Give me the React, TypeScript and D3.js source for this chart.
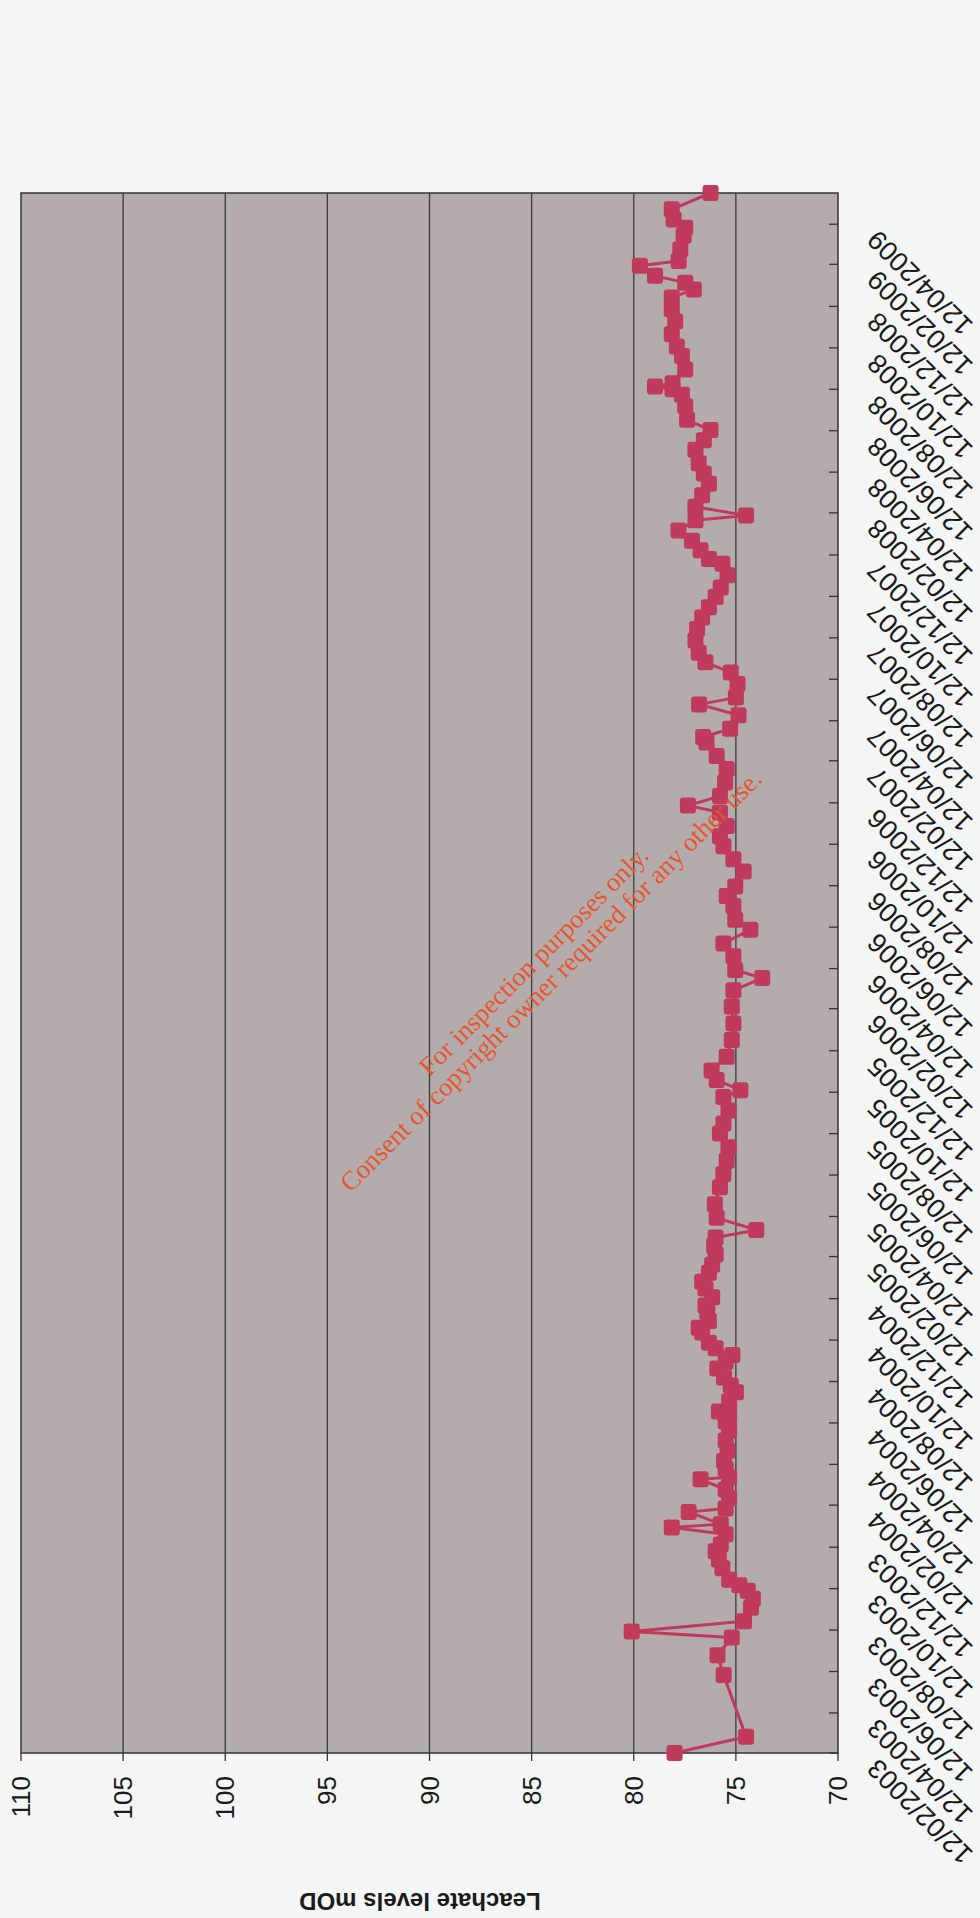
import React from 'react';
import * as d3 from 'd3';

const seriesName = 'L03/1';
const axisTitle = 'Leachate levels mOD';
const watermark1 = 'For inspection purposes only.';
const watermark2 = 'Consent of copyright owner required for any other use.';

const dates = [
'2003-02-12','2003-03-08','2003-06-07','2003-07-06','2003-08-01','2003-08-10','2003-08-25','2003-09-14','2003-09-27','2003-10-09',
'2003-10-17','2003-10-25','2003-11-11','2003-11-24','2003-12-06','2003-12-16','2003-12-31','2004-01-10','2004-01-15','2004-02-02',
'2004-02-07','2004-02-22','2004-03-06','2004-03-21','2004-03-24','2004-04-05','2004-04-17','2004-05-02','2004-05-17','2004-06-01',
'2004-06-14','2004-06-24','2004-06-29','2004-07-14','2004-07-27','2004-08-06','2004-08-18','2004-08-31','2004-09-10','2004-09-20',
'2004-09-30','2004-10-08','2004-10-23','2004-10-30','2004-11-09','2004-11-22','2004-12-02','2004-12-14','2004-12-27','2005-01-06',
'2005-01-19','2005-01-31','2005-02-15','2005-02-28','2005-03-12','2005-03-23','2005-04-10','2005-04-30','2005-05-25','2005-06-13',
'2005-07-03','2005-07-23','2005-08-12','2005-08-27','2005-09-15','2005-10-05','2005-10-15','2005-10-30','2005-11-13','2005-12-03',
'2005-12-28','2006-01-21','2006-02-15','2006-03-11','2006-03-29','2006-04-10','2006-04-30','2006-05-19','2006-06-08','2006-06-23',
'2006-07-13','2006-07-28','2006-08-11','2006-09-02','2006-09-20','2006-10-09','2006-10-24','2006-11-08','2006-11-28','2006-12-08',
'2006-12-22','2007-01-11','2007-01-31','2007-02-19','2007-03-11','2007-03-19','2007-03-31','2007-04-20','2007-05-06','2007-05-16',
'2007-06-05','2007-06-22','2007-07-07','2007-07-21','2007-08-08','2007-08-25','2007-09-11','2007-09-26','2007-10-11','2007-10-25',
'2007-11-12','2007-11-29','2007-12-06','2007-12-19','2008-01-02','2008-01-17','2008-02-01','2008-02-08','2008-02-21','2008-03-09',
'2008-03-26','2008-04-10','2008-04-25','2008-05-15','2008-05-29','2008-06-13','2008-06-28','2008-07-18','2008-08-04','2008-08-12',
'2008-08-16','2008-08-21','2008-09-10','2008-09-30','2008-10-14','2008-11-01','2008-11-20','2008-12-08','2008-12-25','2009-01-06',
'2009-01-16','2009-01-26','2009-02-10','2009-02-17','2009-03-06','2009-03-26','2009-04-07','2009-04-19','2009-05-04','2009-05-28'
];

const levels = [
78.0,74.5,75.6,75.9,75.2,80.1,74.6,74.26,74.17,74.42,
74.83,75.33,75.66,75.83,75.99,75.74,75.5,78.14,75.74,77.31,
75.5,75.33,75.5,76.73,75.33,75.5,75.58,75.41,75.5,75.33,
75.5,75.33,75.83,75.33,75.0,75.25,75.58,75.91,75.5,75.17,
75.99,76.32,76.65,76.82,76.32,76.4,76.49,76.16,76.49,76.65,
76.32,76.16,75.99,76.07,75.99,74.0,75.94,76.03,75.78,75.61,
75.45,75.36,75.78,75.61,75.36,75.61,74.78,75.94,76.19,75.45,
75.2,75.12,75.2,75.12,73.71,75.03,75.12,75.61,74.29,75.03,
75.12,75.45,75.03,74.62,75.12,75.61,75.78,75.45,75.78,77.35,
75.78,75.53,75.45,75.94,76.44,76.6,75.28,74.87,76.8,75.0,
74.92,75.25,76.49,76.82,76.98,76.9,76.65,76.32,75.99,75.74,
75.41,75.66,76.32,76.73,77.15,77.81,76.98,74.5,76.98,76.65,
76.32,76.57,76.82,76.98,76.57,76.24,77.39,77.48,77.64,78.1,
78.96,78.1,77.48,77.64,77.89,78.14,77.97,78.14,78.14,77.06,
77.48,78.96,79.7,77.8,77.72,77.56,77.48,78.05,78.14,76.24
];

const valueTicks = [110, 105, 100, 95, 90, 85, 80, 75, 70];

const dateTickLabels = [
'12/02/2003','12/04/2003','12/06/2003','12/08/2003','12/10/2003','12/12/2003',
'12/02/2004','12/04/2004','12/06/2004','12/08/2004','12/10/2004','12/12/2004',
'12/02/2005','12/04/2005','12/06/2005','12/08/2005','12/10/2005','12/12/2005',
'12/02/2006','12/04/2006','12/06/2006','12/08/2006','12/10/2006','12/12/2006',
'12/02/2007','12/04/2007','12/06/2007','12/08/2007','12/10/2007','12/12/2007',
'12/02/2008','12/04/2008','12/06/2008','12/08/2008','12/10/2008','12/12/2008',
'12/02/2009','12/04/2009'
];

const W = 980;
const H = 1918;
const plot = { left: 21, right: 838, top: 193, bottom: 1753 };
const FONT = '"Liberation Sans", Arial, Helvetica, sans-serif';
const SERIES_COLOR = '#c03a5e';

export default function App() {
  const parse = d3.timeParse('%Y-%m-%d');
  const parseTick = d3.timeParse('%d/%m/%Y');
  const pts = dates.map((d, i) => ({ date: parse(d) as Date, v: levels[i] }));
  const x = d3.scaleLinear().domain([110, 70]).range([plot.left, plot.right]);
  const y = d3
    .scaleTime()
    .domain([pts[0].date, pts[pts.length - 1].date])
    .range([plot.bottom, plot.top]);

  const line = d3
    .line<{ date: Date; v: number }>()
    .x((p) => x(p.v))
    .y((p) => y(p.date));

  const ms = 16;

  return (
    <svg
      width={W}
      height={H}
      viewBox={`0 0 ${W} ${H}`}
      style={{ position: 'absolute', left: 0, top: 0, display: 'block' }}
    >
      <desc>{seriesName}</desc>
      <rect x={0} y={0} width={W} height={H} fill="#f4f6f5" />
      <rect
        x={plot.left}
        y={plot.top}
        width={plot.right - plot.left}
        height={plot.bottom - plot.top}
        fill="#b4abad"
      />
      {valueTicks.slice(1, -1).map((t) => (
        <line key={'g' + t} x1={x(t)} x2={x(t)} y1={plot.top} y2={plot.bottom} stroke="#3a3a3e" strokeWidth={1.3} />
      ))}
      <rect
        x={plot.left}
        y={plot.top}
        width={plot.right - plot.left}
        height={plot.bottom - plot.top}
        fill="none"
        stroke="#333338"
        strokeWidth={1.5}
      />
      {dateTickLabels.map((lab) => {
        const yy = y(parseTick(lab) as Date);
        return <line key={'dt' + lab} x1={plot.right - 9} x2={plot.right} y1={yy} y2={yy} stroke="#333338" strokeWidth={1.3} />;
      })}
      {valueTicks.map((t) => (
        <line key={'vt' + t} x1={x(t)} x2={x(t)} y1={plot.bottom} y2={plot.bottom + 8} stroke="#333338" strokeWidth={1.3} />
      ))}
      {valueTicks.map((t) => (
        <text
          key={'vl' + t}
          transform={`translate(${x(t)},${plot.bottom + 23}) rotate(-90)`}
          textAnchor="end"
          dy="0.35em"
          fontFamily={FONT}
          fontSize={26}
          fill="#1a1a1a"
        >
          {t}
        </text>
      ))}
      {dateTickLabels.map((lab) => {
        const yy = y(parseTick(lab) as Date);
        return (
          <text
            key={'dl' + lab}
            transform={`translate(${plot.right + 34},${yy + 11}) rotate(-135)`}
            textAnchor="end"
            dy="0.35em"
            fontFamily={FONT}
            fontSize={27}
            fill="#1a1a1a"
          >
            {lab}
          </text>
        );
      })}
      <text
        transform={`translate(420,1893) rotate(180)`}
        textAnchor="middle"
        fontFamily={FONT}
        fontWeight="bold"
        fontSize={24}
        fill="#1a1a1a"
      >
        {axisTitle}
      </text>
      <path d={line(pts) || ''} fill="none" stroke={SERIES_COLOR} strokeWidth={3} strokeLinejoin="round" />
      {pts.map((p, i) => (
        <rect
          key={'m' + i}
          x={x(p.v) - ms / 2}
          y={y(p.date) - ms / 2}
          width={ms}
          height={ms}
          rx={3}
          fill={SERIES_COLOR}
        />
      ))}
      <g fontFamily={'"Liberation Serif", "Times New Roman", serif'} fontSize={26.5} fill="#e4572e">
        <text transform="translate(540,967) rotate(-45)" textAnchor="middle">
          {watermark1}
        </text>
        <text transform="translate(557,987) rotate(-45)" textAnchor="middle">
          {watermark2}
        </text>
      </g>
    </svg>
  );
}
